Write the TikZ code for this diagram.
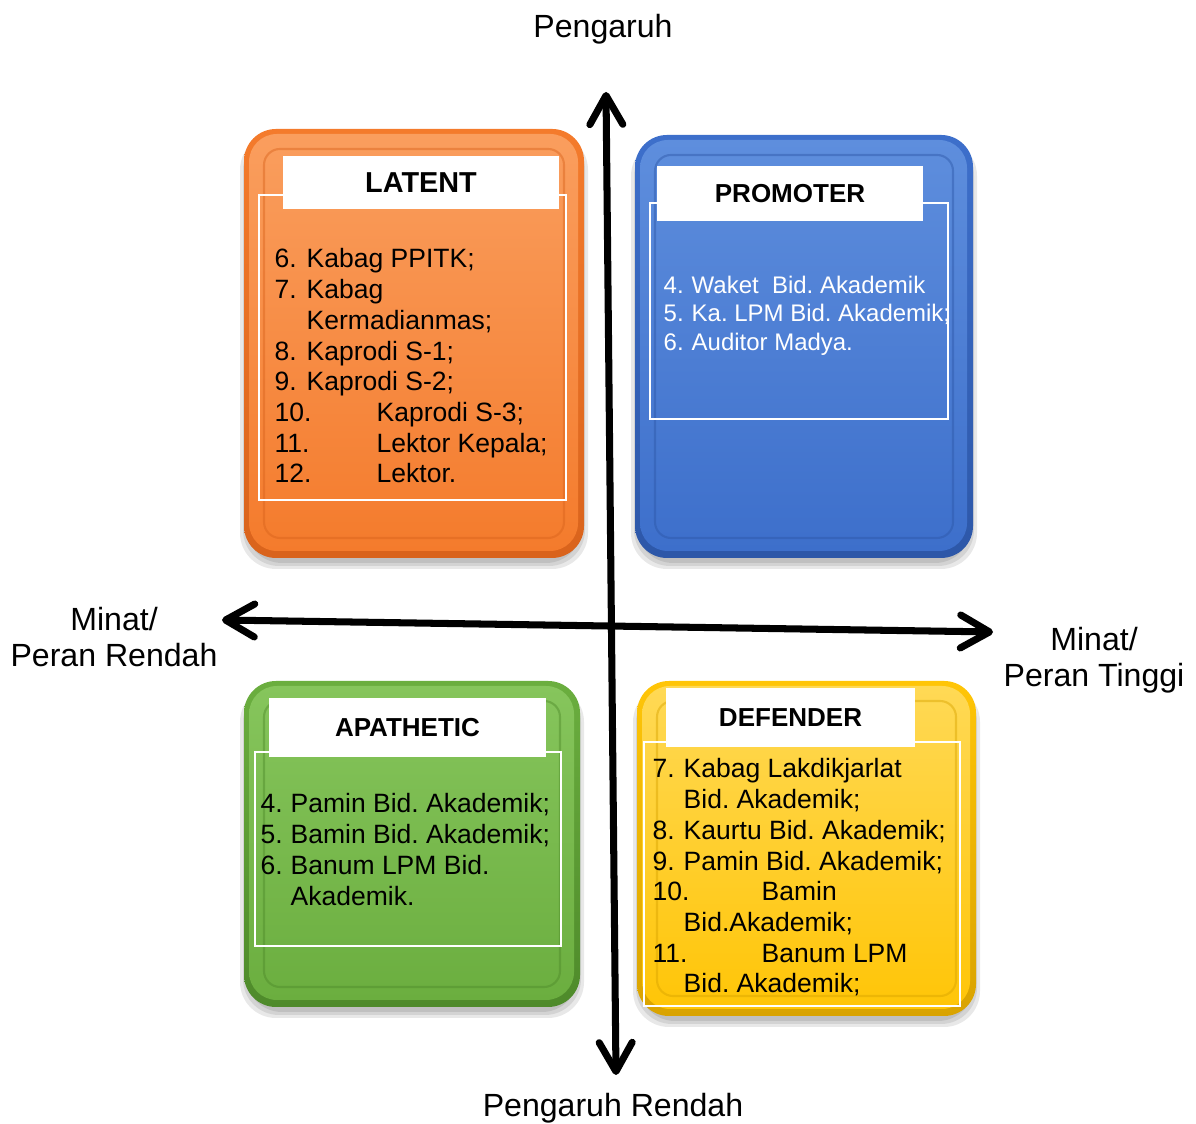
\documentclass[tikz,border=0pt]{standalone}
\usepackage{fontspec}
\setmainfont{Liberation Sans}
\usetikzlibrary{arrows.meta}
\frenchspacing

% panel colours: light top, base, dark rim
\definecolor{latentL}{HTML}{FA9E5E}
\definecolor{latentB}{HTML}{F47B2C}
\definecolor{latentR}{HTML}{D9631C}
\definecolor{promoterL}{HTML}{5E8EDD}
\definecolor{promoterB}{HTML}{3D6FCB}
\definecolor{promoterR}{HTML}{2D57A8}
\definecolor{apatheticL}{HTML}{86C55C}
\definecolor{apatheticB}{HTML}{6BAE3F}
\definecolor{apatheticR}{HTML}{4E8A2A}
\definecolor{defenderL}{HTML}{FFD955}
\definecolor{defenderB}{HTML}{FFC507}
\definecolor{defenderR}{HTML}{D9A300}

\newlength{\numw}
\newcommand{\li}[2]{\makebox[\numw][l]{#1}#2}

% bevelled panel: #1,#2 lower left, #3,#4 upper right, #5 colour prefix
\newcommand{\panel}[5]{%
  \foreach \s in {0.09,0.06,0.03}
    \fill[black,opacity=0.09,rounded corners=0.36cm] ({#1-\s+0.05},{#2-\s-0.02}) rectangle ({#3+\s-0.05},{#4-0.05});
  \shade[rounded corners=0.32cm,top color=#5B,bottom color=#5R] (#1,#2) rectangle (#3,#4);
  \shade[rounded corners=0.28cm,top color=#5L,bottom color=#5B] ({#1+0.05},{#2+0.07}) rectangle ({#3-0.06},{#4-0.05});
  \draw[#5R,opacity=0.45,rounded corners=0.16cm,line width=0.6pt] ({#1+0.2},{#2+0.2}) rectangle ({#3-0.2},{#4-0.2});
}

\begin{document}
\begin{tikzpicture}[
  listframe/.style={draw=white,line width=0.7pt},
  titlebar/.style={fill=white,inner sep=0pt,font=\fontsize{7.4}{8.6}\selectfont\bfseries},
  listtext/.style={inner sep=0pt,anchor=base west,font=\fontsize{7.54}{8.73}\selectfont},
  axislabel/.style={align=center,font=\fontsize{9.13}{10.24}\selectfont},
  axis/.style={line width=2pt,>={Straight Barb[round,length=2.9mm,width=3.3mm]},<->},
]
  \useasboundingbox (0,0) rectangle (11.96,11.24);

  % LATENT (kiri atas)
  \panel{2.44}{5.66}{5.84}{9.95}{latent}
  \draw[listframe] (2.59,6.24) rectangle (5.66,9.29);
  \node[titlebar,font=\fontsize{8.2}{9.4}\selectfont\bfseries,minimum width=2.76cm,minimum height=0.53cm] (latent) at (4.21,9.41) {LATENT};
  \node[listtext] (latentlist) at (2.74,8.56) {\setlength{\numw}{3.2mm}%
    \begin{tabular}[t]{@{}l@{}}
      \li{6.}{Kabag PPITK;}\\
      \li{7.}{Kabag}\\
      \li{}{Kermadianmas;}\\
      \li{8.}{Kaprodi S-1;}\\
      \li{9.}{Kaprodi S-2;}\\
      \li{10.}{\hspace{7mm}Kaprodi S-3;}\\
      \li{11.}{\hspace{7mm}Lektor Kepala;}\\
      \li{12.}{\hspace{7mm}Lektor.}
    \end{tabular}};

  % PROMOTER (kanan atas)
  \panel{6.35}{5.66}{9.73}{9.89}{promoter}
  \draw[listframe] (6.50,7.05) rectangle (9.48,9.21);
  \node[titlebar,minimum width=2.66cm,minimum height=0.55cm] (promoter) at (7.90,9.30) {PROMOTER};
  \node[listtext,text=white,font=\fontsize{6.82}{7.97}\selectfont] (promoterlist) at (6.63,8.30) {\setlength{\numw}{2.8mm}%
    \begin{tabular}[t]{@{}l@{}}
      \li{4.}{Waket\ \ Bid. Akademik}\\
      \li{5.}{Ka. LPM Bid. Akademik;}\\
      \li{6.}{Auditor Madya.}
    \end{tabular}};

  % APATHETIC (kiri bawah)
  \panel{2.44}{1.17}{5.80}{4.43}{apathetic}
  \draw[listframe] (2.55,1.78) rectangle (5.61,3.72);
  \node[titlebar,minimum width=2.77cm,minimum height=0.59cm] (apathetic) at (4.075,3.965) {APATHETIC};
  \node[listtext] (apatheticlist) at (2.60,3.11) {\setlength{\numw}{3.0mm}%
    \begin{tabular}[t]{@{}l@{}}
      \li{4.}{Pamin Bid. Akademik;}\\
      \li{5.}{Bamin Bid. Akademik;}\\
      \li{6.}{Banum LPM Bid.}\\
      \li{}{Akademik.}
    \end{tabular}};

  % DEFENDER (kanan bawah)
  \panel{6.37}{1.08}{9.76}{4.43}{defender}
  \draw[listframe] (6.44,1.18) rectangle (9.60,3.82);
  \node[titlebar,minimum width=2.49cm,minimum height=0.59cm] (defender) at (7.905,4.065) {DEFENDER};
  \node[listtext] (defenderlist) at (6.52,3.46) {\setlength{\numw}{3.1mm}%
    \begin{tabular}[t]{@{}l@{}}
      \li{7.}{Kabag Lakdikjarlat}\\
      \li{}{Bid. Akademik;}\\
      \li{8.}{Kaurtu Bid. Akademik;}\\
      \li{9.}{Pamin Bid. Akademik;}\\
      \li{10.}{\hspace{7.8mm}Bamin}\\
      \li{}{Bid.Akademik;}\\
      \li{11.}{\hspace{7.8mm}Banum LPM}\\
      \li{}{Bid. Akademik;}
    \end{tabular}};

  % sumbu
  \coordinate (up)    at (6.06,10.32);
  \coordinate (down)  at (6.16,0.49);
  \coordinate (left)  at (2.22,5.04);
  \coordinate (right) at (9.93,4.92);
  \draw[axis] (down) -- (up);
  \draw[axis] (left) -- (right);

  % label sumbu
  \node[axislabel] (pengaruh) at (6.03,10.95) {Pengaruh};
  \node[axislabel] (rendah) at (6.13,0.16) {Pengaruh Rendah};
  \node[axislabel] (minatrendah) at (1.14,4.87) {Minat/\\Peran Rendah};
  \node[axislabel] (minattinggi) at (10.94,4.635) {Minat/\\Peran Tinggi};
\end{tikzpicture}
\end{document}
